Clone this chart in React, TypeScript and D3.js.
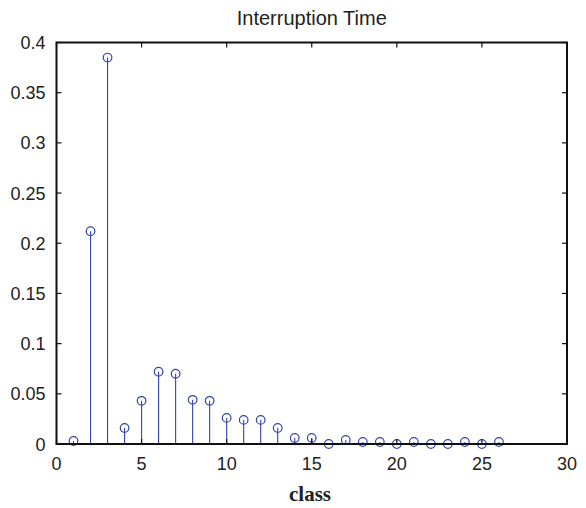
import React from "react";
import * as d3 from "d3";

const classes = [1, 2, 3, 4, 5, 6, 7, 8, 9, 10, 11, 12, 13, 14, 15, 16, 17, 18, 19, 20, 21, 22, 23, 24, 25, 26];
const freqs = [
  0.003, 0.212, 0.385, 0.016, 0.043, 0.072, 0.070, 0.044, 0.043, 0.026,
  0.024, 0.024, 0.016, 0.006, 0.006, 0.0, 0.004, 0.002, 0.002, 0.0,
  0.002, 0.0, 0.0, 0.002, 0.0, 0.002,
];
const xTicks = [0, 5, 10, 15, 20, 25, 30];
const yTicks = [0, 0.05, 0.1, 0.15, 0.2, 0.25, 0.3, 0.35, 0.4];

const W = 586;
const H = 508;
const margin = { top: 42.5, right: 19, bottom: 64, left: 56.5 };
const STEM = "#3444b0";
const FONT = "'Liberation Sans', Arial, sans-serif";

export default function App() {
  const x = d3.scaleLinear().domain([0, 30]).range([margin.left, W - margin.right]);
  const y = d3.scaleLinear().domain([0, 0.4]).range([H - margin.bottom, margin.top]);
  const x0 = margin.left, x1 = W - margin.right;
  const y0 = H - margin.bottom, y1 = margin.top;
  const tick = 5;

  return (
    <svg width={W} height={H} style={{ position: "absolute", left: 0, top: 0 }}>
      <rect x={0} y={0} width={W} height={H} fill="#fff" />
      <text x={(x0 + x1) / 2} y={25} textAnchor="middle" fontFamily={FONT} fontSize={20} fill="#222">
        Interruption Time
      </text>

      {/* stems */}
      {classes.map((c, i) => (
        <g key={c}>
          <line x1={x(c)} x2={x(c)} y1={y(0)} y2={y(freqs[i])} stroke={STEM} strokeWidth={1.1} />
          <circle cx={x(c)} cy={y(freqs[i])} r={4.3} fill="none" stroke={STEM} strokeWidth={1.2} />
        </g>
      ))}

      {/* frame */}
      <rect x={x0} y={y1} width={x1 - x0} height={y0 - y1} fill="none" stroke="#111" strokeWidth={2} />

      {xTicks.map((t) => (
        <g key={"x" + t}>
          <line x1={x(t)} x2={x(t)} y1={y0} y2={y0 - tick} stroke="#111" strokeWidth={1.2} />
          <line x1={x(t)} x2={x(t)} y1={y1} y2={y1 + tick} stroke="#111" strokeWidth={1.2} />
          <text x={x(t)} y={470} textAnchor="middle" fontFamily={FONT} fontSize={18} fill="#222">
            {t}
          </text>
        </g>
      ))}

      {yTicks.map((t) => (
        <g key={"y" + t}>
          <line x1={x0} x2={x0 + tick} y1={y(t)} y2={y(t)} stroke="#111" strokeWidth={1.2} />
          <line x1={x1} x2={x1 - tick} y1={y(t)} y2={y(t)} stroke="#111" strokeWidth={1.2} />
          <text x={45.5} y={y(t) + 6.5} textAnchor="end" fontFamily={FONT} fontSize={18} fill="#222">
            {d3.format("")(+t.toFixed(2))}
          </text>
        </g>
      ))}

      <text x={310} y={501} textAnchor="middle" fontFamily="'Liberation Serif', 'Times New Roman', serif" fontWeight="bold" fontSize={21} fill="#222">
        class
      </text>
    </svg>
  );
}
